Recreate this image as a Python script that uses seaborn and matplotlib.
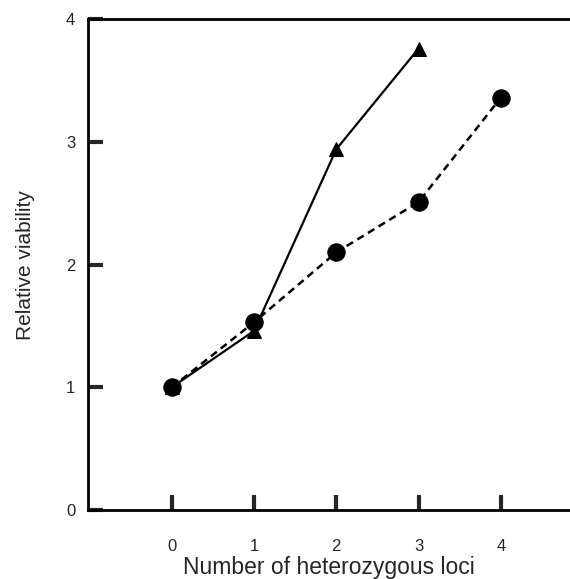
import matplotlib
matplotlib.use("Agg")
import matplotlib.pyplot as plt
import seaborn as sns
import pandas as pd

loci = [0, 1, 2, 3, 4]
circle_vals = [1.0, 1.53, 2.10, 2.51, 3.36]
tri_loci = [0, 1, 2, 3]
tri_vals = [1.0, 1.46, 2.94, 3.76]
xticks = [0, 1, 2, 3, 4]
yticks = [0, 1, 2, 3, 4]

sns.set_style("ticks")
plt.rcParams['font.family'] = ['Liberation Sans', 'DejaVu Sans']

df_c = pd.DataFrame({"loci": loci, "viab": circle_vals})
df_t = pd.DataFrame({"loci": tri_loci, "viab": tri_vals})

fig = plt.figure(figsize=(5.70, 5.79), dpi=100)
ax = fig.add_axes([0.154, 0.119, 0.846, 0.848])

sns.lineplot(data=df_t, x="loci", y="viab", ax=ax, color="black", lw=1.6,
             marker="^", markersize=10, markeredgecolor="black", zorder=3)
sns.lineplot(data=df_c, x="loci", y="viab", ax=ax, color="black", lw=1.8,
             linestyle=(0, (3, 2)), marker="o", markersize=12.5,
             markeredgecolor="black", zorder=4)

ax.set_xlim(-1.02, 4.84)
ax.set_ylim(0, 4)
ax.set_xticks(xticks)
ax.set_yticks(yticks)
ax.tick_params(axis="x", direction="in", length=11, width=3, pad=21, labelsize=12)
ax.tick_params(axis="y", direction="in", length=11, width=3, pad=9, labelsize=12)
for s in ["left", "top", "bottom"]:
    ax.spines[s].set_linewidth(2.0)
    ax.spines[s].set_color("black")
ax.spines["right"].set_visible(False)
ax.set_xlabel("Number of heterozygous loci", fontsize=16.5, labelpad=1)
ax.set_ylabel("Relative viability", fontsize=15, labelpad=22)

fig.savefig("out.png", dpi=100)
